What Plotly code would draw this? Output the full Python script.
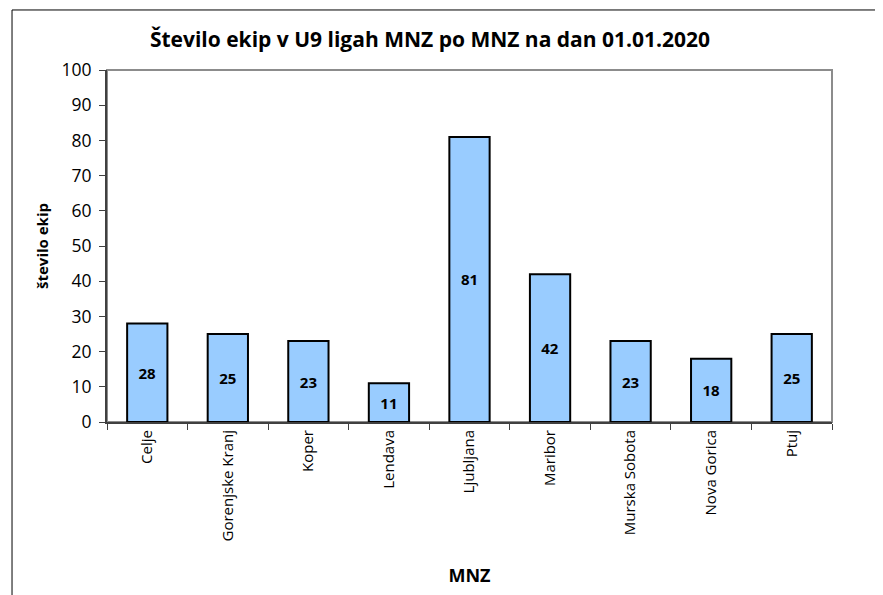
import plotly.graph_objects as go

# MNZ regions and number of U9 teams per region
regions = ["Celje", "Gorenjske Kranj", "Koper", "Lendava", "Ljubljana",
           "Maribor", "Murska Sobota", "Nova Gorica", "Ptuj"]
teams = [28, 25, 23, 11, 81, 42, 23, 18, 25]
y_ticks = [0, 10, 20, 30, 40, 50, 60, 70, 80, 90, 100]

FONT = "Open Sans, Calibri, sans-serif"
BAR_COLOR = "#99ccff"
AXIS_COLOR = "#404040"

fig = go.Figure()
fig.add_trace(go.Bar(
    x=regions,
    y=teams,
    width=0.5,
    marker=dict(color=BAR_COLOR, line=dict(color="black", width=2)),
    text=teams,
    textposition="inside",
    insidetextanchor="middle",
    textangle=0,
    textfont=dict(family=FONT, size=15, color="black", weight="bold"),
    hoverinfo="x+y",
))

# plot-area frame (grey top/right edge) and the outer chart border
fig.add_shape(type="rect", xref="paper", yref="paper", x0=0, x1=1, y0=0, y1=1,
              line=dict(color="#8c8c8c", width=2), layer="below")
fig.add_shape(type="rect", xref="paper", yref="paper",
              x0=-0.131, x1=1.2, y0=-0.6, y1=1.1705,
              line=dict(color="black", width=1))

# the page puts the figure 8px in from the corner, so the margins are
# 8px smaller than the positions
fig.update_layout(
    width=875,
    height=587,
    margin=dict(l=99, r=51, t=62, b=173),
    paper_bgcolor="white",
    plot_bgcolor="white",
    showlegend=False,
    font=dict(family=FONT, color="black"),
    title=dict(
        text="<b>Število ekip v U9 ligah MNZ po MNZ na dan 01.01.2020</b>",
        xref="paper", x=0.4455, xanchor="center",
        yref="container", y=1 - 32 / 587, yanchor="middle",
        font=dict(family=FONT, size=21, color="black"),
    ),
    xaxis=dict(
        showline=True, linecolor=AXIS_COLOR, linewidth=2,
        ticks="outside", tickson="boundaries", ticklen=6, tickcolor=AXIS_COLOR,
        tickangle=-90, tickfont=dict(family=FONT, size=15),
        showgrid=False,
        title=dict(text="<b>MNZ</b>", font=dict(family=FONT, size=18), standoff=29),
    ),
    yaxis=dict(
        range=[0, 100], tickvals=y_ticks,
        showline=True, linecolor=AXIS_COLOR, linewidth=2,
        ticks="outside", ticklen=6, tickcolor=AXIS_COLOR,
        tickfont=dict(family=FONT, size=17.5), ticklabelstandoff=4,
        showgrid=False, zeroline=False,
        title=dict(text="<b>število ekip</b>", font=dict(family=FONT, size=15), standoff=9),
    ),
)

fig.write_html("out.html")
